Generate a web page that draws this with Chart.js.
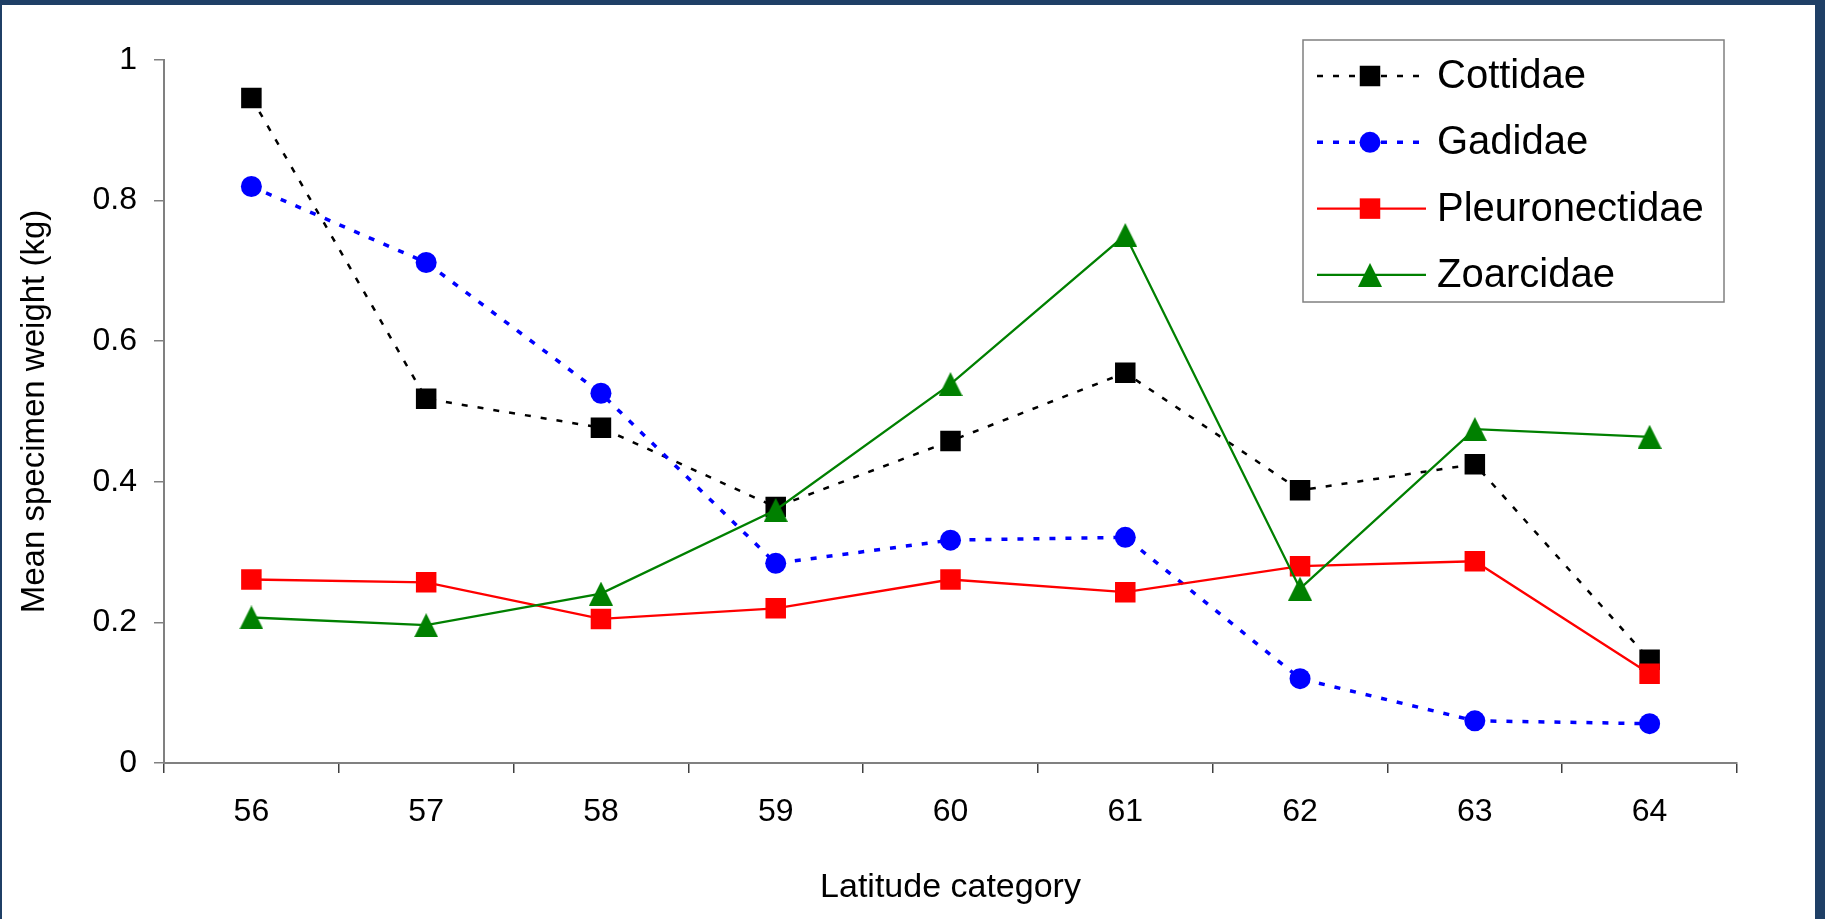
<!DOCTYPE html>
<html>
<head>
<meta charset="utf-8">
<title>Mean specimen weight by latitude</title>
<script src="https://cdn.jsdelivr.net/npm/chart.js@4.4.1/dist/chart.umd.min.js"></script>
<style>
  html, body { margin: 0; padding: 0; width: 1825px; height: 919px; overflow: hidden; background: #1f3f66; }
  #wrap { position: absolute; left: 2px; top: 5px; width: 1813px; height: 914px; background: #fff; }
</style>
</head>
<body>
<div id="wrap"><canvas id="chart"></canvas></div>
<script>
/* data */
const latitudes = ["56", "57", "58", "59", "60", "61", "62", "63", "64"];
const cottidae       = [0.946, 0.518, 0.477, 0.364, 0.458, 0.555, 0.388, 0.425, 0.147];
const gadidae        = [0.820, 0.712, 0.526, 0.284, 0.317, 0.321, 0.120, 0.060, 0.056];
const pleuronectidae = [0.261, 0.257, 0.205, 0.220, 0.261, 0.243, 0.280, 0.287, 0.127];
const zoarcidae      = [0.207, 0.196, 0.241, 0.360, 0.539, 0.751, 0.248, 0.475, 0.464];

const yTicks = [0, 0.2, 0.4, 0.6, 0.8, 1];

const FONT = "'Liberation Sans', Arial, sans-serif";
const AXIS_GREY = "#808080";

// Excel-style triangle: centred on its bounding box, not on its centroid
function triangleMarker(color, size) {
  const c = document.createElement("canvas");
  c.width = size; c.height = size;
  const g = c.getContext("2d");
  g.fillStyle = color;
  g.beginPath();
  g.moveTo(size / 2, 0);
  g.lineTo(size, size);
  g.lineTo(0, size);
  g.closePath();
  g.fill();
  return c;
}

const greenTri = triangleMarker("#008000", 24);

const series = [
  { label: "Cottidae",       data: cottidae,       color: "#000000", dash: [6, 10], width: 2.5, style: "rect",   radius: 14.5 },
  { label: "Gadidae",        data: gadidae,        color: "#0000ff", dash: [6, 10], width: 3.5, style: "circle", radius: 10.5 },
  { label: "Pleuronectidae", data: pleuronectidae, color: "#ff0000", dash: [],      width: 2.3, style: "rect",   radius: 14.5 },
  { label: "Zoarcidae",      data: zoarcidae,      color: "#008000", dash: [],      width: 2.3, style: greenTri, radius: 12 },
];

// legend drawn by hand so the line sample keeps its dash + marker
const legendBox = {
  id: "legendBox",
  afterDraw(chart) {
    const ctx = chart.ctx;
    const a = chart.chartArea;
    const w = 421, h = 262;
    const x0 = a.right - 13 - w;
    const y0 = a.top - 20;

    ctx.save();
    ctx.fillStyle = "#fff";
    ctx.fillRect(x0, y0, w, h);
    ctx.strokeStyle = AXIS_GREY;
    ctx.lineWidth = 1.5;
    ctx.strokeRect(x0, y0, w, h);

    series.forEach((s, i) => {
      const cy = y0 + 36 + i * 66.3;
      ctx.save();
      ctx.strokeStyle = s.color;
      ctx.lineWidth = s.width;
      ctx.setLineDash(s.dash);
      ctx.beginPath();
      ctx.moveTo(x0 + 14, cy);
      ctx.lineTo(x0 + 123, cy);
      ctx.stroke();
      ctx.restore();

      ctx.save();
      ctx.fillStyle = s.color;
      ctx.strokeStyle = s.color;
      Chart.helpers.drawPoint(ctx, { pointStyle: s.style, radius: s.radius, borderWidth: 0, rotation: 0 }, x0 + 67, cy);
      ctx.restore();

      ctx.fillStyle = "#000";
      ctx.font = "40px " + FONT;
      ctx.textBaseline = "middle";
      ctx.textAlign = "left";
      ctx.fillText(s.label, x0 + 134, cy + 1);
    });
    ctx.restore();
  }
};

const datasets = series.map((s, i) => ({
  label: s.label,
  data: s.data,
  borderColor: s.color,
  backgroundColor: s.color,
  borderWidth: s.width,
  borderDash: s.dash,
  pointStyle: s.style,
  pointRadius: s.radius,
  pointHoverRadius: s.radius,
  pointBorderWidth: 0,
  pointBackgroundColor: s.color,
  tension: 0,
  order: series.length - i   // later series sit on top, like the original
}));

new Chart(document.getElementById("chart"), {
  type: "line",
  data: { labels: latitudes, datasets },
  options: {
    responsive: true,
    maintainAspectRatio: false,
    devicePixelRatio: 1,
    animation: false,
    layout: { padding: { top: 55, right: 78, bottom: 0, left: 0 } },
    plugins: { legend: { display: false }, tooltip: { enabled: false } },
    scales: {
      x: {
        type: "category",
        offset: true,
        grid: { display: true, offset: true, drawOnChartArea: false, drawTicks: true, tickLength: 10, color: "#404040", lineWidth: 1.5 },
        border: { display: true, color: AXIS_GREY, width: 2 },
        ticks: { color: "#000", font: { family: FONT, size: 32 }, padding: 20, maxRotation: 0, autoSkip: false },
        title: { display: true, text: "Latitude category", color: "#000", font: { family: FONT, size: 34 }, padding: { top: 0, bottom: 11 } },
        afterFit(scale) { scale.height = 156; }
      },
      y: {
        min: 0,
        max: 1,
        afterBuildTicks(scale) { scale.ticks = yTicks.map(v => ({ value: v })); },
        grid: { display: true, drawOnChartArea: false, drawTicks: true, tickLength: 10, color: AXIS_GREY, lineWidth: 1.5 },
        border: { display: true, color: AXIS_GREY, width: 2 },
        ticks: { color: "#000", font: { family: FONT, size: 32 }, padding: 17, callback: v => String(v) },
        title: { display: true, text: "Mean specimen weight (kg)", color: "#000", font: { family: FONT, size: 33 }, padding: { top: 13, bottom: 0 } },
        afterFit(scale) { scale.width = 162; }
      }
    }
  },
  plugins: [legendBox]
});
</script>
</body>
</html>
